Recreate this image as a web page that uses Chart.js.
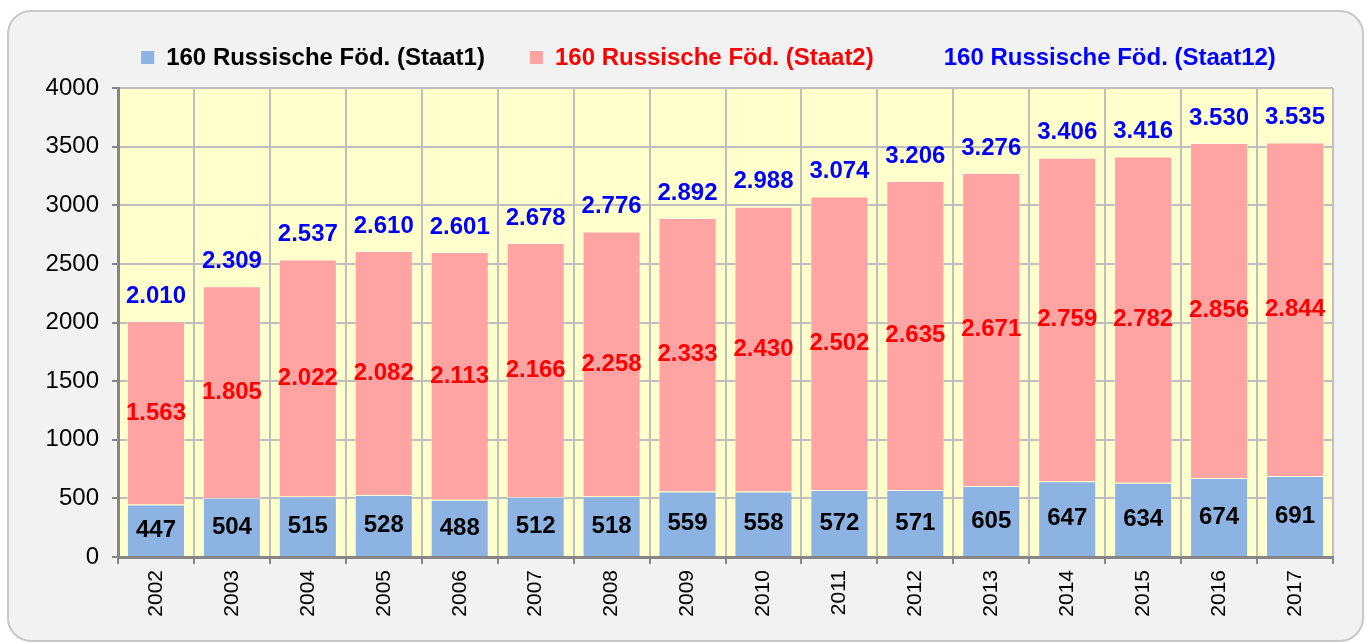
<!DOCTYPE html>
<html>
<head>
<meta charset="utf-8">
<script src="https://cdn.jsdelivr.net/npm/chart.js@4.4.1/dist/chart.umd.min.js"></script>
<style>
  html, body { margin: 0; padding: 0; background: #ffffff; }
  #wrap { position: relative; width: 1369px; height: 642px; overflow: hidden; }
  #panel {
    position: absolute; left: 7px; top: 10px; width: 1357px; height: 632px;
    box-sizing: border-box; border: 2px solid #c8c8c8; border-radius: 24px; background: #f2f2f2;
  }
  #chart { position: absolute; left: 0; top: 0; }
</style>
</head>
<body>
<div id="wrap">
  <div id="panel"></div>
  <canvas id="chart" width="1369" height="642"></canvas>
</div>
<script>
const years = ["2002", "2003", "2004", "2005", "2006", "2007", "2008", "2009",
               "2010", "2011", "2012", "2013", "2014", "2015", "2016", "2017"];
const staat1 = [447, 504, 515, 528, 488, 512, 518, 559, 558, 572, 571, 605, 647, 634, 674, 691];
const staat2 = [1563, 1805, 2022, 2082, 2113, 2166, 2258, 2333, 2430, 2502, 2635, 2671, 2759, 2782, 2856, 2844];
const staat12 = [2010, 2309, 2537, 2610, 2601, 2678, 2776, 2892, 2988, 3074, 3206, 3276, 3406, 3416, 3530, 3535];
const names = ["160 Russische Föd. (Staat1)", "160 Russische Föd. (Staat2)", "160 Russische Föd. (Staat12)"];

const FAMILY = "'Liberation Sans', Arial, sans-serif";

// german thousands separator: 2010 -> 2.010
function fmt(v) {
    if (v < 1000) return String(v);
    return Math.floor(v / 1000) + "." + String(v % 1000).padStart(3, "0");
}

const plotBackground = {
    id: "plotBackground",
    beforeDraw(chart) {
        const { ctx, chartArea: a } = chart;
        ctx.save();
        ctx.fillStyle = "#ffffcc";
        ctx.fillRect(a.left, a.top, a.right - a.left, a.bottom - a.top);
        ctx.restore();
    },
};

const valueLabels = {
    id: "valueLabels",
    afterDatasetsDraw(chart) {
        const ctx = chart.ctx;
        ctx.save();
        ctx.font = "bold 24px " + FAMILY;
        ctx.textAlign = "center";
        ctx.textBaseline = "middle";
        chart.data.datasets.forEach((ds, i) => {
            const meta = chart.getDatasetMeta(i);
            meta.data.forEach((el, j) => {
                const y = ds.type === "line" ? el.y - 25 : (el.y + el.base) / 2;
                ctx.fillStyle = ds.labelColor;
                ctx.fillText(fmt(ds.data[j]), el.x, y);
            });
        });
        ctx.restore();
    },
};

const legendRow = {
    id: "legendRow",
    afterDraw(chart) {
        const ctx = chart.ctx;
        ctx.save();
        ctx.font = "bold 24px " + FAMILY;
        ctx.textBaseline = "middle";
        const box = 13, gap = 12, between = 45, cy = 58;
        const items = chart.data.datasets.map((ds) => ({
            text: ds.label,
            color: ds.labelColor,
            fill: ds.type === "line" ? null : ds.backgroundColor,
            w: ctx.measureText(ds.label).width,
        }));
        let total = 0;
        items.forEach((it, k) => {
            total += box + gap + it.w + (k < items.length - 1 ? between : 0);
        });
        let x = 708.5 - total / 2;
        items.forEach((it) => {
            if (it.fill) {
                ctx.fillStyle = it.fill;
                ctx.fillRect(x, cy - 7, box, box);
            }
            ctx.fillStyle = it.color;
            ctx.fillText(it.text, x + box + gap, cy);
            x += box + gap + it.w + between;
        });
        ctx.restore();
    },
};

new Chart(document.getElementById("chart").getContext("2d"), {
    data: {
        labels: years,
        datasets: [
            {
                type: "bar",
                label: names[0],
                data: staat1,
                backgroundColor: "#8db3e2",
                borderColor: "rgba(255,255,255,0.35)",
                borderWidth: 1,
                stack: "bars",
                labelColor: "#000000",
                categoryPercentage: 1,
                barPercentage: 0.765,
            },
            {
                type: "bar",
                label: names[1],
                data: staat2,
                backgroundColor: "#ffa3a3",
                borderColor: "rgba(255,255,255,0.35)",
                borderWidth: 1,
                stack: "bars",
                labelColor: "#ff0000",
                categoryPercentage: 1,
                barPercentage: 0.765,
            },
            {
                type: "line",
                label: names[2],
                data: staat12,
                showLine: false,
                pointRadius: 0,
                borderColor: "rgba(0,0,0,0)",
                backgroundColor: "rgba(0,0,0,0)",
                stack: "total",
                labelColor: "#0000ff",
            },
        ],
    },
    options: {
        responsive: false,
        animation: false,
        devicePixelRatio: 1,
        layout: { padding: { top: 88, right: 36, left: 0, bottom: 0 } },
        plugins: {
            legend: { display: false },
            tooltip: { enabled: false },
        },
        scales: {
            x: {
                stacked: true,
                offset: true,
                grid: { offset: true, color: "#bfbfbf", lineWidth: 2, tickColor: "#868686", tickLength: 7 },
                border: { color: "#868686", width: 3 },
                ticks: {
                    color: "#000000",
                    font: { size: 21, family: FAMILY },
                    minRotation: 90,
                    maxRotation: 90,
                    autoSkip: false,
                    padding: 6,
                },
                afterFit(scale) { scale.height = 85; },
            },
            y: {
                stacked: true,
                min: 0,
                max: 4000,
                grid: { color: "#bfbfbf", lineWidth: 2, tickColor: "#868686", tickLength: 6 },
                border: { color: "#868686", width: 3 },
                ticks: {
                    stepSize: 500,
                    color: "#000000",
                    font: { size: 24, family: FAMILY },
                    padding: 13,
                    callback: (v) => String(v),
                },
                afterFit(scale) { scale.width = 118; },
            },
        },
    },
    plugins: [plotBackground, valueLabels, legendRow],
});
</script>
</body>
</html>
